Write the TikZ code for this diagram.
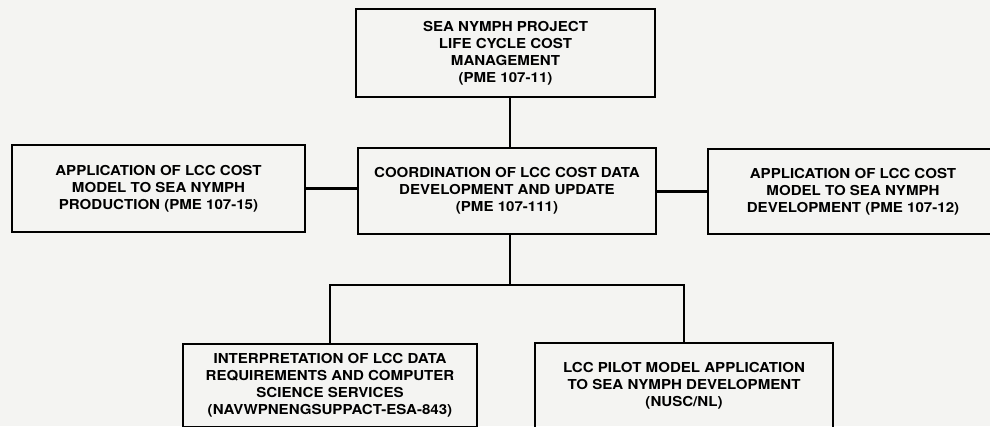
\documentclass[tikz,border=0pt]{standalone}
\usepackage{fontspec}
\setmainfont[FakeStretch=1.1]{TeX Gyre Heros}
\usetikzlibrary{calc}
\definecolor{paper}{RGB}{244,244,242}
\tikzset{
	box/.style={draw,line width=1.6pt,align=center,inner sep=0pt,
		font=\bfseries\fontsize{7.8}{9.6}\selectfont},
	link/.style={line width=1.6pt}
}
\begin{document}
\begin{tikzpicture}[x=0.02cm,y=-0.02cm]
\fill[paper] (0,0) rectangle (990,426);
\useasboundingbox (0,0) rectangle (990,426);
\clip (0,0) rectangle (990,426);
% boxes
\node[box,minimum width=5.98cm,minimum height=1.76cm] (cost) at (505.5,53)
	{SEA NYMPH PROJECT\\LIFE CYCLE COST\\MANAGEMENT\\(PME 107-11)};
\node[box,minimum width=5.96cm,minimum height=1.72cm] (coord) at (507,191)
	{COORDINATION OF LCC COST DATA\\DEVELOPMENT AND UPDATE\\(PME 107-111)};
\node[box,minimum width=5.86cm,minimum height=1.74cm] (prod) at (158.5,188.5)
	{APPLICATION OF LCC COST\\MODEL TO SEA NYMPH\\PRODUCTION (PME 107-15)};
\node[box,minimum width=5.80cm,minimum height=1.70cm] (devel) at (853,191.5)
	{APPLICATION OF LCC COST\\MODEL TO SEA NYMPH\\DEVELOPMENT (PME 107-12)};
\node[box,minimum width=5.88cm,minimum height=1.66cm] (interp) at (330,385.5)
	{INTERPRETATION OF LCC DATA\\REQUIREMENTS AND COMPUTER\\SCIENCE SERVICES\\(NAVWPNENGSUPPACT-ESA-843)};
\node[box,minimum width=5.96cm,minimum height=1.70cm] (pilot) at (684,385.5)
	{LCC PILOT MODEL APPLICATION\\TO SEA NYMPH DEVELOPMENT\\(NUSC/NL)};
% connectors
\coordinate (fork) at (510,285);
\draw[link] (cost.south -| fork) -- (coord.north -| fork);
\draw[link] (prod.east) -- (prod.east -| coord.west);
\draw[link] (coord.east |- devel.west) -- (devel.west);
\draw[link] (coord.south -| fork) -- (fork);
\draw[link] (interp.north) |- (fork) -| (pilot.north);
\end{tikzpicture}
\end{document}
